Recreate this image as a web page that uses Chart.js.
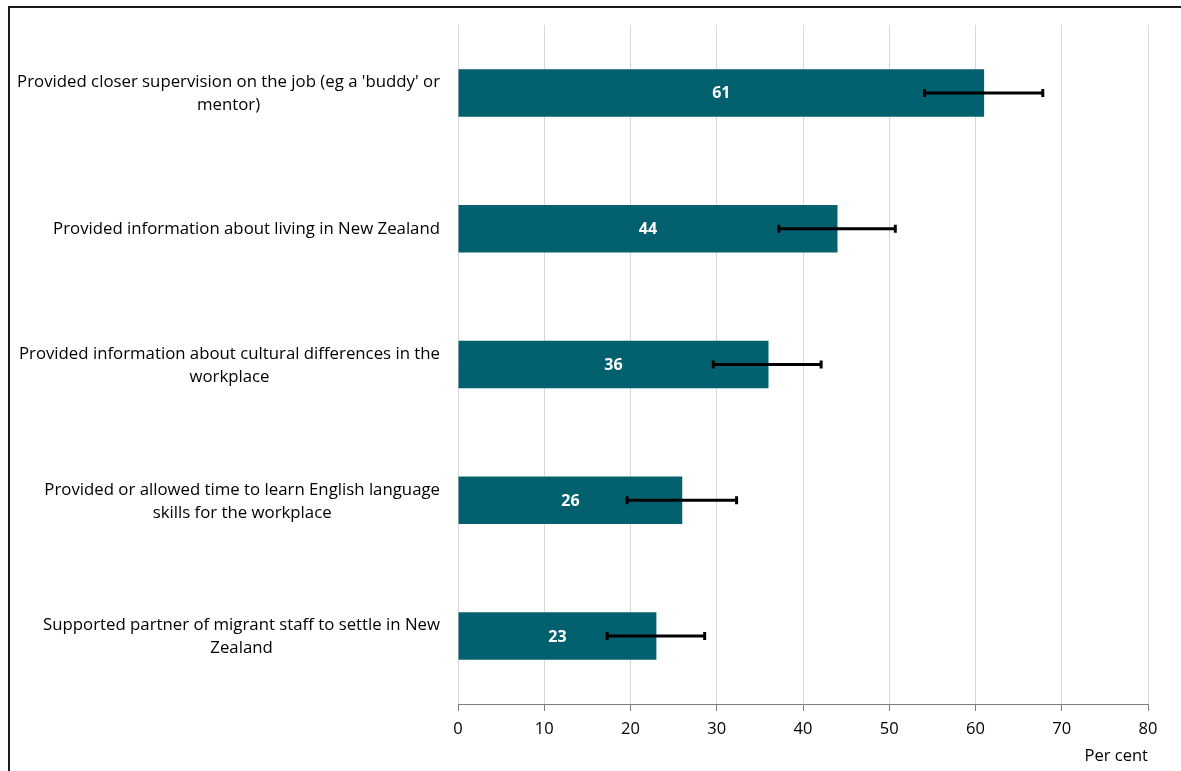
<!DOCTYPE html>
<html>
<head>
<meta charset="utf-8">
<title>Employer support for migrant staff</title>
<script src="https://cdn.jsdelivr.net/npm/chart.js@4"></script>
<style>
  html, body { margin: 0; padding: 0; background: #fff; overflow: hidden; }
  #frame {
    position: absolute; left: 8px; top: 6px;
    width: 1300px; height: 900px;
    border-top: 2px solid #1a1a1a; border-left: 2px solid #1a1a1a;
  }
  #chart { position: absolute; left: 0; top: 0; }
</style>
</head>
<body>
<div id="frame"></div>
<canvas id="chart" width="1181" height="771"></canvas>
<script>
/* ──────────────────────────────────────────────
   Data
   ────────────────────────────────────────────── */
const categories = [
  ["Provided closer supervision on the job (eg a 'buddy' or", 'mentor)'],
  ['Provided information about living in New Zealand'],
  ['Provided information about cultural differences in the', 'workplace'],
  ['Provided or allowed time to learn English language', 'skills for the workplace'],
  ['Supported partner of migrant staff to settle in New', 'Zealand'],
];
const values = [61, 44, 36, 26, 23];
const errLow = [54.1, 37.2, 29.6, 19.6, 17.3];
const errHigh = [67.8, 50.7, 42.1, 32.3, 28.6];
const xTicks = { min: 0, max: 80, step: 10 };
const axisTitle = 'Per cent';

const BAR_COLOR = '#03606f';
const FONT = "'Open Sans', 'Liberation Sans', Arial, sans-serif";

Chart.defaults.font.family = FONT;
Chart.defaults.color = '#000';

/* ──────────────────────────────────────────────
   Plugins: category labels, value labels, error bars
   ────────────────────────────────────────────── */
const categoryLabels = {
  id: 'categoryLabels',
  afterDraw(chart) {
    const { ctx } = chart;
    const yScale = chart.scales.y;
    const right = chart.chartArea.left - 18;
    const lineH = 23;
    ctx.save();
    ctx.font = '16.8px ' + FONT;
    ctx.fillStyle = '#000';
    ctx.textAlign = 'center';
    ctx.textBaseline = 'middle';
    categories.forEach((lines, i) => {
      const cy = yScale.getPixelForValue(i);
      const w = Math.max(...lines.map((l) => ctx.measureText(l).width));
      const cx = right - w / 2;
      const top = cy - ((lines.length - 1) * lineH) / 2;
      lines.forEach((l, j) => ctx.fillText(l, cx, top + 1 + j * lineH));
    });
    ctx.restore();
  },
};

const valueLabels = {
  id: 'valueLabels',
  afterDatasetsDraw(chart) {
    const { ctx } = chart;
    const meta = chart.getDatasetMeta(0);
    ctx.save();
    ctx.font = 'bold 16px ' + FONT;
    ctx.fillStyle = '#fff';
    ctx.textAlign = 'center';
    ctx.textBaseline = 'middle';
    meta.data.forEach((bar, i) => {
      ctx.fillText(String(values[i]), (bar.x + bar.base) / 2, bar.y + 1);
    });
    ctx.restore();
  },
};

const errorBars = {
  id: 'errorBars',
  afterDatasetsDraw(chart) {
    const { ctx } = chart;
    const xScale = chart.scales.x;
    const meta = chart.getDatasetMeta(0);
    const cap = 4;
    ctx.save();
    ctx.strokeStyle = '#000';
    ctx.lineWidth = 3;
    meta.data.forEach((bar, i) => {
      const x1 = xScale.getPixelForValue(errLow[i]);
      const x2 = xScale.getPixelForValue(errHigh[i]);
      const y = bar.y;
      ctx.beginPath();
      ctx.moveTo(x1, y);
      ctx.lineTo(x2, y);
      ctx.moveTo(x1, y - cap);
      ctx.lineTo(x1, y + cap);
      ctx.moveTo(x2, y - cap);
      ctx.lineTo(x2, y + cap);
      ctx.stroke();
    });
    ctx.restore();
  },
};

/* ──────────────────────────────────────────────
   Chart
   ────────────────────────────────────────────── */
new Chart(document.getElementById('chart'), {
  type: 'bar',
  data: {
    labels: categories,
    datasets: [
      {
        data: values,
        backgroundColor: BAR_COLOR,
        borderWidth: 0,
        categoryPercentage: 1,
        barPercentage: 0.35,
      },
    ],
  },
  options: {
    indexAxis: 'y',
    responsive: false,
    animation: false,
    layout: { padding: { top: 25, right: 33, left: 0, bottom: 0 } },
    plugins: { legend: { display: false }, tooltip: { enabled: false } },
    scales: {
      x: {
        min: xTicks.min,
        max: xTicks.max,
        ticks: { stepSize: xTicks.step, color: '#000', font: { size: 16.5 }, padding: 8 },
        grid: { color: '#d9d9d9', tickColor: '#7f7f7f', tickLength: 7 },
        border: { color: '#7f7f7f', width: 1 },
        title: {
          display: true,
          text: axisTitle,
          align: 'end',
          color: '#000',
          font: { size: 16.5 },
          padding: { top: 0, bottom: 5 },
        },
        afterFit(scale) { scale.height = 67; },
      },
      y: {
        ticks: { display: false },
        grid: { display: false },
        border: { display: false },
        afterFit(scale) { scale.width = 458; },
      },
    },
  },
  plugins: [categoryLabels, valueLabels, errorBars],
});
</script>
</body>
</html>
